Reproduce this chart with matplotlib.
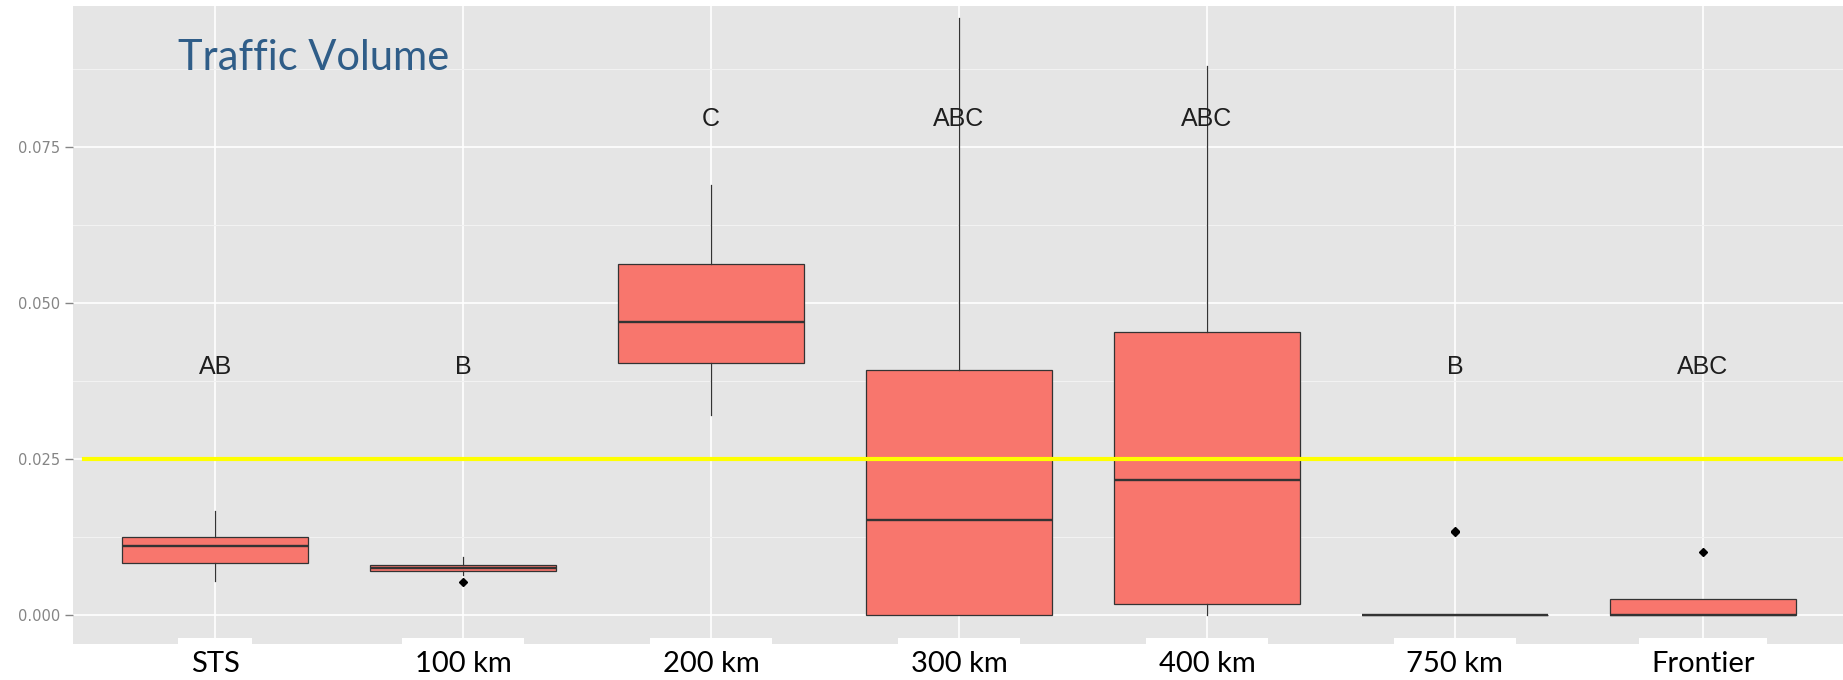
import numpy as np
import matplotlib.pyplot as plt

# --------------------------------------------------
# data
# --------------------------------------------------
categories   = ["STS", "100 km", "200 km", "300 km", "400 km", "750 km", "Frontier"]
whisker_low  = [0.0054, 0.0064, 0.0321, 0.0,    0.0,    0.0, 0.0]
q1           = [0.0083, 0.0071, 0.0404, 0.0,    0.0017, 0.0, 0.0]
median       = [0.0110, 0.0076, 0.0470, 0.0153, 0.0217, 0.0, 0.0]
q3           = [0.0125, 0.0080, 0.0562, 0.0392, 0.0454, 0.0, 0.0025]
whisker_high = [0.0167, 0.0093, 0.0689, 0.0956, 0.0880, 0.0, 0.0025]
outliers     = [[], [0.0053], [], [], [], [0.0133, 0.0135], [0.0101]]
letters      = ["AB", "B", "C", "ABC", "ABC", "B", "ABC"]
letter_y     = [0.0397, 0.0397, 0.0795, 0.0795, 0.0795, 0.0397, 0.0397]
threshold    = 0.025
y_major      = [0.0, 0.025, 0.05, 0.075]
y_minor      = [0.0125, 0.0375, 0.0625, 0.0875]

# --------------------------------------------------
# figure / panel
# --------------------------------------------------
W, H = 1843, 680
fig = plt.figure(figsize=(W / 100, H / 100), dpi=100, facecolor="white")
ax = fig.add_axes([73 / W, 36 / H, 1770 / W, 638 / H])
ax.set_facecolor("#E5E5E5")
for s in ax.spines.values():
    s.set_visible(False)

positions = np.arange(1, len(categories) + 1)
stats = []
for i in range(len(categories)):
    stats.append(dict(whislo=whisker_low[i], q1=q1[i], med=median[i],
                      q3=q3[i], whishi=whisker_high[i], fliers=outliers[i]))

ax.bxp(
    stats,
    positions=positions,
    widths=0.75,
    patch_artist=True,
    showcaps=False,
    boxprops=dict(facecolor="#F8766D", edgecolor="#333333", linewidth=0.9),
    medianprops=dict(color="#333333", linewidth=1.7),
    whiskerprops=dict(color="#333333", linewidth=0.9),
    flierprops=dict(marker="D", markerfacecolor="black",
                    markeredgecolor="black", markersize=4),
)

# significance letters
for p, lab, y in zip(positions, letters, letter_y):
    ax.text(p, y, lab, ha="center", va="center", fontsize=18,
            family="Liberation Sans", color="#1E1E1E")

# threshold line
ax.axhline(threshold, xmin=0.006, color="#FFFF00", lw=3, zorder=3)

# --------------------------------------------------
# axes styling
# --------------------------------------------------
ax.set_xlim(0.427, 7.565)
ax.set_ylim(-0.00465, 0.0976)
ax.set_yticks(y_major)
ax.set_yticks(y_minor, minor=True)
ax.set_yticklabels([f"{v:.3f}" for v in y_major])
ax.grid(which="major", color="white", lw=1.2)
ax.grid(which="minor", axis="y", color="#F2F2F2", lw=0.8)
ax.set_axisbelow(True)

ax.tick_params(axis="y", which="major", labelsize=10.5, labelcolor="#858585",
               color="#858585", length=6, width=1, pad=3.5)
ax.tick_params(axis="y", which="minor", length=0)

ax.set_xticks(positions)
ax.set_xticklabels(categories, fontsize=21, family="Lato", color="black")
ax.tick_params(axis="x", length=0, pad=5)
for t in ax.get_xticklabels():
    t.set_bbox(dict(facecolor="white", edgecolor="none", pad=9))

ax.text(0.0593, 0.8997, "Traffic Volume", transform=ax.transAxes,
        fontsize=30, family="Lato", color="#2F5D88", va="baseline")

fig.savefig("out.png", dpi=100, facecolor="white")
